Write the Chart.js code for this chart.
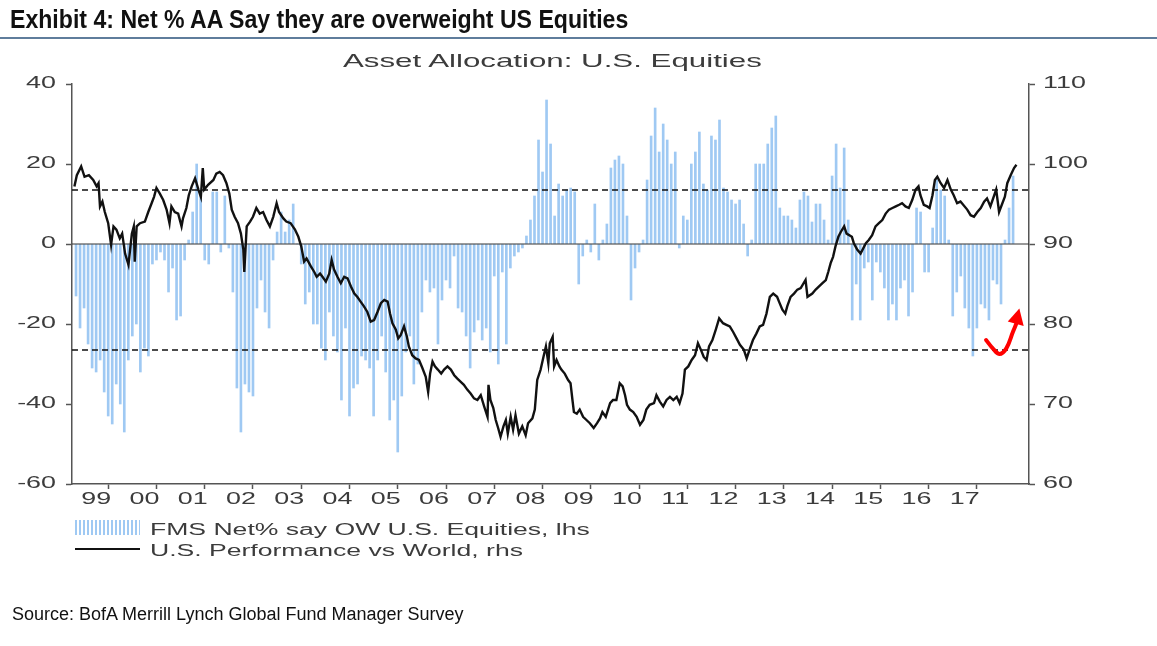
<!DOCTYPE html>
<html>
<head>
<meta charset="utf-8">
<script src="https://cdn.jsdelivr.net/npm/chart.js@4.4.1/dist/chart.umd.min.js"></script>
<style>
  html, body { margin: 0; padding: 0; background: #fff; }
  #wrap { position: relative; width: 1157px; height: 646px; overflow: hidden; }
  #chart { position: absolute; left: 0; top: 0; }
  .t { position: absolute; white-space: nowrap; margin: 0; line-height: 1; }
  #title { left: 10px; top: 5px; font: bold 25px "Liberation Sans", Arial, sans-serif; color: #111;
           transform: scaleX(0.924); transform-origin: left top; }
  #rule { position: absolute; left: 0; top: 37px; width: 1157px; height: 2px; background: #5f7d9c; }
  #sub { left: 343px; top: 50px; font: 18.5px "Liberation Sans", Arial, sans-serif; color: #3c3c3c;
         transform: scaleX(1.69); transform-origin: left top; }
  .leg { left: 150px; font: 16px "Liberation Sans", Arial, sans-serif; color: #3c3c3c;
         transform: scaleX(1.66); transform-origin: left top; }
  #patch { position: absolute; left: 75px; top: 520px; width: 65px; height: 15px;
           background: repeating-linear-gradient(90deg, #9fc9f3 0 2px, transparent 2px 4px); }
  #lineKey { position: absolute; left: 75px; top: 548px; width: 65px; height: 2px; background: #111; }
  #source { left: 12px; top: 604px; font: 18px "Liberation Sans", Arial, sans-serif; color: #111; }
</style>
</head>
<body>
<div id="wrap">
  <canvas id="chart" width="1157" height="646"></canvas>
  <div class="t" id="title">Exhibit 4: Net % AA Say they are overweight US Equities</div>
  <div id="rule"></div>
  <div class="t" id="sub">Asset Allocation: U.S. Equities</div>
  <div id="patch"></div>
  <div class="t leg" style="top:521px">FMS Net% say OW U.S. Equities, lhs</div>
  <div id="lineKey"></div>
  <div class="t leg" style="top:542px">U.S. Performance vs World, rhs</div>
  <div class="t" id="source">Source: BofA Merrill Lynch Global Fund Manager Survey</div>
</div>
<script>
// FMS net % overweight US equities, monthly from Jan 1999 (lhs)
const fmsNet = [
  -13, -21, -16, -25, -31, -32, -29, -37, -43, -45, -35, -40,   // 1999
  -47, -29, -23, -20, -32, -26, -28, -5, -4, -2, -4, -12,       // 2000
  -6, -19, -18, -4, 1, 8, 20, 12, -4, -5, 13, 13,               // 2001
  -2, 12, -1, -12, -36, -47, -35, -37, -38, -16, -9, -17,       // 2002
  -21, -4, 3, 8, 3, 6, 10, 0, -5, -15, -12, -20,                // 2003
  -20, -26, -29, -17, -23, -27, -39, -21, -43, -36, -35, -28,   // 2004
  -29, -31, -43, -29, -23, -32, -44, -39, -52, -38, -27, -23,   // 2005
  -35, -30, -17, -9, -12, -11, -25, -14, -9, -11, -3, -16,      // 2006
  -17, -23, -31, -22, -19, -24, -21, -27, -8, -30, -7, -25,     // 2007
  -6, -3, -2, -1, 2, 6, 12, 26, 18, 36, 25, 7,                  // 2008
  15, 12, 13.5, 14, 13, -10, -3, 1, -2, 10, -4, 1,              // 2009
  5, 19, 21, 22, 20, 7, -14, -6, -2, 1, 16, 27,                 // 2010
  34, 23, 30, 26, 20, 23, -1, 7, 6, 20, 23, 28,                 // 2011
  15, 13.5, 27, 26, 31, 14, 13, 11, 10, 11, 5, -3,              // 2012
  1, 20, 20, 20, 25, 29, 32, 9, 7, 7, 6, 4,                     // 2013
  11, 13, 12, 5.5, 10, 10, 6, 1, 17, 25, 14, 24,                // 2014
  6, -19, -10, -19, -6, -4.5, -14, -4.5, -7, -11, -19, -15,     // 2015
  -19, -11, -9, -18, -12, 9, 8, -7, -7, 4, 16, 13.5,            // 2016
  12, 1, -18, -12, -8, -16, -21, -28, -21, -15, -16, -19,       // 2017
  -9, -10, -15, 1, 9, 17                                        // 2018
];

// US performance vs world (rhs)
const perfDates = [
  1999.05, 1999.10, 1999.19, 1999.26, 1999.35, 1999.44, 1999.51, 1999.55, 1999.58, 1999.63, 1999.68, 1999.75, 1999.81, 1999.86, 1999.92, 1999.99,
  2000.04, 2000.10, 2000.17, 2000.24, 2000.28, 2000.30, 2000.34, 2000.41, 2000.51, 2000.58, 2000.65, 2000.70, 2000.75, 2000.82, 2000.89, 2000.96,
  2001.02, 2001.06, 2001.13, 2001.20, 2001.27, 2001.30, 2001.37, 2001.42, 2001.48, 2001.55, 2001.62, 2001.67, 2001.71, 2001.74, 2001.82, 2001.93, 2001.99,
  2002.06, 2002.13, 2002.20, 2002.26, 2002.31, 2002.37, 2002.44, 2002.50, 2002.55, 2002.57, 2002.62, 2002.69, 2002.75, 2002.82, 2002.89, 2002.96,
  2003.03, 2003.10, 2003.17, 2003.24, 2003.29, 2003.38, 2003.44, 2003.53, 2003.62, 2003.69, 2003.75, 2003.81, 2003.86, 2003.95,
  2004.02, 2004.07, 2004.14, 2004.19, 2004.26, 2004.33, 2004.38, 2004.43, 2004.50, 2004.57, 2004.64, 2004.71, 2004.78, 2004.85, 2004.91, 2004.98,
  2005.05, 2005.12, 2005.19, 2005.26, 2005.33, 2005.40, 2005.47, 2005.54, 2005.59, 2005.64, 2005.71, 2005.76, 2005.81, 2005.88, 2005.94, 2005.98,
  2006.05, 2006.12, 2006.19, 2006.26, 2006.33, 2006.38, 2006.42, 2006.47, 2006.52, 2006.58, 2006.65, 2006.71, 2006.78, 2006.85, 2006.92, 2006.98,
  2007.05, 2007.12, 2007.19, 2007.26, 2007.33, 2007.40, 2007.47, 2007.54, 2007.61, 2007.63, 2007.67, 2007.73, 2007.78, 2007.83, 2007.88, 2007.94, 2007.99,
  2008.03, 2008.09, 2008.14, 2008.19, 2008.26, 2008.33, 2008.40, 2008.45, 2008.54, 2008.59, 2008.64, 2008.71, 2008.77, 2008.82, 2008.87, 2008.90, 2008.96, 2008.99,
  2009.04, 2009.10, 2009.14, 2009.21, 2009.28, 2009.33, 2009.37, 2009.40, 2009.46, 2009.52, 2009.59, 2009.66, 2009.73, 2009.81, 2009.88, 2009.94, 2009.99,
  2010.06, 2010.15, 2010.21, 2010.28, 2010.35, 2010.41, 2010.46, 2010.50, 2010.56, 2010.63, 2010.70, 2010.77, 2010.84, 2010.90, 2010.97,
  2011.06, 2011.11, 2011.18, 2011.25, 2011.32, 2011.39, 2011.46, 2011.53, 2011.59, 2011.65, 2011.70, 2011.77, 2011.84, 2011.91, 2011.97,
  2012.03, 2012.09, 2012.15, 2012.20, 2012.27, 2012.34, 2012.41, 2012.49, 2012.56, 2012.63, 2012.70, 2012.77, 2012.84, 2012.92, 2012.98,
  2013.04, 2013.11, 2013.18, 2013.25, 2013.32, 2013.39, 2013.46, 2013.53, 2013.61, 2013.65, 2013.72, 2013.78, 2013.82, 2013.89, 2013.96,
  2014.03, 2014.10, 2014.20, 2014.24, 2014.34, 2014.41, 2014.55, 2014.62, 2014.67, 2014.72, 2014.77, 2014.82, 2014.88, 2014.93,
  2015.00, 2015.05, 2015.16, 2015.20, 2015.27, 2015.34, 2015.45, 2015.51, 2015.58, 2015.65, 2015.72, 2015.79, 2015.86, 2015.93,
  2016.00, 2016.07, 2016.14, 2016.20, 2016.27, 2016.34, 2016.41, 2016.48, 2016.54, 2016.58, 2016.65, 2016.72, 2016.77, 2016.83, 2016.88, 2016.93,
  2017.00, 2017.07, 2017.14, 2017.21, 2017.27, 2017.34, 2017.41, 2017.55, 2017.62, 2017.69, 2017.76, 2017.83, 2017.90, 2017.96,
  2018.03, 2018.15, 2018.21, 2018.33, 2018.38, 2018.45, 2018.52, 2018.57
];
const perfValues = [
  97.2, 98.6, 99.7, 98.4, 98.6, 98.0, 97.2, 97.6, 94.7, 95.3, 94.0, 92.6, 89.9, 92.2, 91.8, 90.7,
  91.3, 88.8, 87.4, 91.3, 92.2, 87.8, 92.2, 92.6, 92.8, 94.0, 95.1, 95.9, 97.0, 96.3, 95.5, 94.3,
  92.6, 94.7, 94.0, 93.8, 92.2, 93.2, 94.5, 96.1, 97.2, 98.2, 96.8, 95.9, 99.5, 96.8, 97.4, 98.0, 98.8,
  99.0, 98.6, 97.6, 96.3, 94.3, 93.4, 92.6, 91.3, 89.3, 86.5, 92.2, 92.8, 93.4, 94.5, 93.8, 94.0,
  93.0, 92.2, 93.4, 95.1, 94.0, 93.2, 92.8, 92.6, 91.8, 90.9, 89.7, 87.8, 88.2, 87.2,
  86.5, 85.9, 86.3, 85.9, 85.3, 86.3, 88.0, 86.8, 85.9, 85.1, 85.9, 85.7, 84.7, 83.8, 83.4, 82.8,
  82.2, 81.5, 80.3, 80.5, 81.5, 82.6, 83.0, 82.8, 81.3, 80.1, 79.3, 78.2, 78.6, 79.7, 78.4, 77.2,
  76.1, 75.7, 75.5, 74.5, 73.4, 71.5, 73.8, 75.3, 74.7, 74.3, 73.8, 74.3, 74.7, 74.3, 73.6, 73.2,
  72.8, 72.4, 71.8, 71.3, 70.7, 70.5, 71.1, 69.7, 68.4, 72.4, 70.5, 69.5, 68.0, 67.0, 65.9, 67.2, 68.0,
  66.3, 68.4, 66.8, 68.6, 66.3, 67.2, 66.1, 67.6, 68.2, 69.3, 73.0, 74.3, 75.9, 77.2, 75.1, 77.6, 78.4, 74.7,
  75.5, 74.7, 74.3, 73.8, 73.0, 72.6, 70.5, 69.0, 68.8, 69.3, 68.4, 68.0, 67.6, 67.0, 67.6, 68.2, 69.0,
  68.4, 70.1, 70.5, 70.5, 72.6, 72.2, 71.1, 69.9, 69.3, 69.0, 68.4, 67.4, 68.0, 69.3, 69.9,
  70.1, 71.1, 70.3, 69.7, 70.5, 70.9, 70.5, 70.9, 70.1, 71.3, 74.3, 74.7, 75.5, 76.1, 77.6,
  76.8, 75.9, 75.5, 77.2, 78.0, 79.3, 80.7, 80.1, 79.9, 79.7, 79.0, 78.2, 77.4, 76.8, 75.7,
  76.8, 78.0, 78.8, 79.7, 79.9, 81.3, 83.4, 83.8, 83.4, 82.8, 81.8, 81.3, 82.2, 83.4, 83.8,
  84.3, 84.5, 85.5, 83.4, 83.8, 84.3, 85.1, 85.5, 86.5, 87.6, 88.4, 89.7, 90.9, 91.5,
  92.2, 91.3, 90.9, 90.1, 89.3, 88.8, 90.1, 90.5, 91.1, 92.2, 92.6, 93.0, 93.8, 94.3,
  94.5, 94.7, 94.9, 95.1, 94.7, 94.5, 95.5, 96.8, 97.2, 96.1, 94.9, 94.7, 94.5, 96.1, 98.0, 98.4,
  97.6, 97.0, 98.0, 96.8, 96.1, 95.1, 95.3, 94.3, 93.6, 93.4, 94.0, 94.5, 95.3, 95.7,
  94.7, 96.8, 94.0, 95.9, 97.6, 98.6, 99.5, 99.9
];

const yearLabels = ['99', '00', '01', '02', '03', '04', '05', '06', '07', '08', '09',
                    '10', '11', '12', '13', '14', '15', '16', '17'];
const refLevels = [13.5, -26.5];           // dashed bands on lhs
const arrowX = [2017.94, 2018.08, 2018.22, 2018.36, 2018.50, 2018.57];
const arrowY = [-24.0, -26.1, -27.5, -26.1, -21.9, -19.8];
const arrowTipX = [2018.63, 2018.39, 2018.72];
const arrowTipY = [-16.1, -19.4, -20.5];

const X_MIN = 1999, X_MAX = 2018.83;
const TEXT_STRETCH = 1.68;

const barData = fmsNet.map((v, i) => ({ x: X_MIN + (i + 1) / 12, y: v }));
const perfData = perfDates.map((d, i) => ({ x: d, y: perfValues[i] }));
const hLine = v => [{ x: X_MIN, y: v }, { x: X_MAX, y: v }];

const xTicks = [];
for (let y = 1999; y <= 2018; y++) {
  xTicks.push(y);
  if (y < 2018) xTicks.push(y + 0.5);
}

// chart text in the original is horizontally stretched
const stretchText = {
  id: 'stretchText',
  beforeInit(chart) {
    const ctx = chart.ctx;
    const fill = ctx.fillText.bind(ctx);
    ctx.fillText = (txt, x, y) => {
      ctx.save();
      ctx.translate(x, y);
      ctx.scale(TEXT_STRETCH, 1);
      fill(txt, 0, 0);
      ctx.restore();
    };
  }
};

const arrowHead = {
  id: 'arrowHead',
  afterDatasetsDraw(chart) {
    const { x, y } = chart.scales;
    const ctx = chart.ctx;
    ctx.save();
    ctx.fillStyle = '#ff0000';
    ctx.beginPath();
    arrowTipX.forEach((v, i) => {
      const px = x.getPixelForValue(v), py = y.getPixelForValue(arrowTipY[i]);
      if (i === 0) ctx.moveTo(px, py); else ctx.lineTo(px, py);
    });
    ctx.closePath();
    ctx.fill();
    ctx.restore();
  }
};

const tickFont = { family: '"Liberation Sans", Arial, sans-serif', size: 16 };

new Chart(document.getElementById('chart'), {
  type: 'bar',
  data: {
    datasets: [
      {
        type: 'bar', label: 'FMS Net% say OW U.S. Equities, lhs', data: barData,
        backgroundColor: '#9fc9f3', barThickness: 2, yAxisID: 'y', order: 5
      },
      {
        type: 'line', data: hLine(0), borderColor: '#333', borderWidth: 1,
        pointRadius: 0, yAxisID: 'y', order: 4
      },
      {
        type: 'line', data: hLine(refLevels[0]), borderColor: '#111', borderWidth: 1.5,
        borderDash: [6, 4], pointRadius: 0, yAxisID: 'y', order: 3
      },
      {
        type: 'line', data: hLine(refLevels[1]), borderColor: '#111', borderWidth: 1.5,
        borderDash: [6, 4], pointRadius: 0, yAxisID: 'y', order: 3
      },
      {
        type: 'line', label: 'U.S. Performance vs World, rhs', data: perfData,
        borderColor: '#111', borderWidth: 2.4, pointRadius: 0, tension: 0,
        yAxisID: 'y2', order: 2
      },
      {
        type: 'line', data: arrowX.map((v, i) => ({ x: v, y: arrowY[i] })),
        borderColor: '#ff0000', borderWidth: 4, borderCapStyle: 'round',
        pointRadius: 0, tension: 0.4, yAxisID: 'y', order: 1
      }
    ]
  },
  options: {
    responsive: false,
    animation: false,
    layout: { padding: { top: 84, bottom: 132, left: 0, right: 0 } },
    plugins: { legend: { display: false }, tooltip: { enabled: false } },
    scales: {
      x: {
        type: 'linear', min: X_MIN, max: X_MAX, offset: false,
        afterBuildTicks: s => { s.ticks = xTicks.map(v => ({ value: v })); },
        afterFit: s => { s.height = 30; },
        ticks: {
          autoSkip: false, maxRotation: 0, padding: 1, color: '#3c3c3c', font: tickFont,
          callback: v => (v % 1 === 0.5 ? yearLabels[Math.floor(v) - 1999] : '')
        },
        grid: {
          drawOnChartArea: false, tickLength: 5, tickWidth: 1.5,
          tickColor: c => (c.tick && c.tick.value % 1 === 0 ? '#555' : 'rgba(0,0,0,0)')
        },
        border: { color: '#555', width: 1.5 }
      },
      y: {
        position: 'left', min: -60, max: 40,
        afterFit: s => { s.width = 72; },
        ticks: { stepSize: 20, padding: 10, color: '#3c3c3c', font: tickFont },
        grid: { drawOnChartArea: false, tickLength: 6, tickWidth: 1.5, tickColor: '#555' },
        border: { color: '#555', width: 1.5 }
      },
      y2: {
        position: 'right', min: 60, max: 110,
        afterFit: s => { s.width = 1157 - 1029; },
        ticks: { stepSize: 10, padding: 8, color: '#3c3c3c', font: tickFont },
        grid: { drawOnChartArea: false, tickLength: 6, tickWidth: 1.5, tickColor: '#555' },
        border: { color: '#555', width: 1.5 }
      }
    }
  },
  plugins: [stretchText, arrowHead]
});
</script>
</body>
</html>
